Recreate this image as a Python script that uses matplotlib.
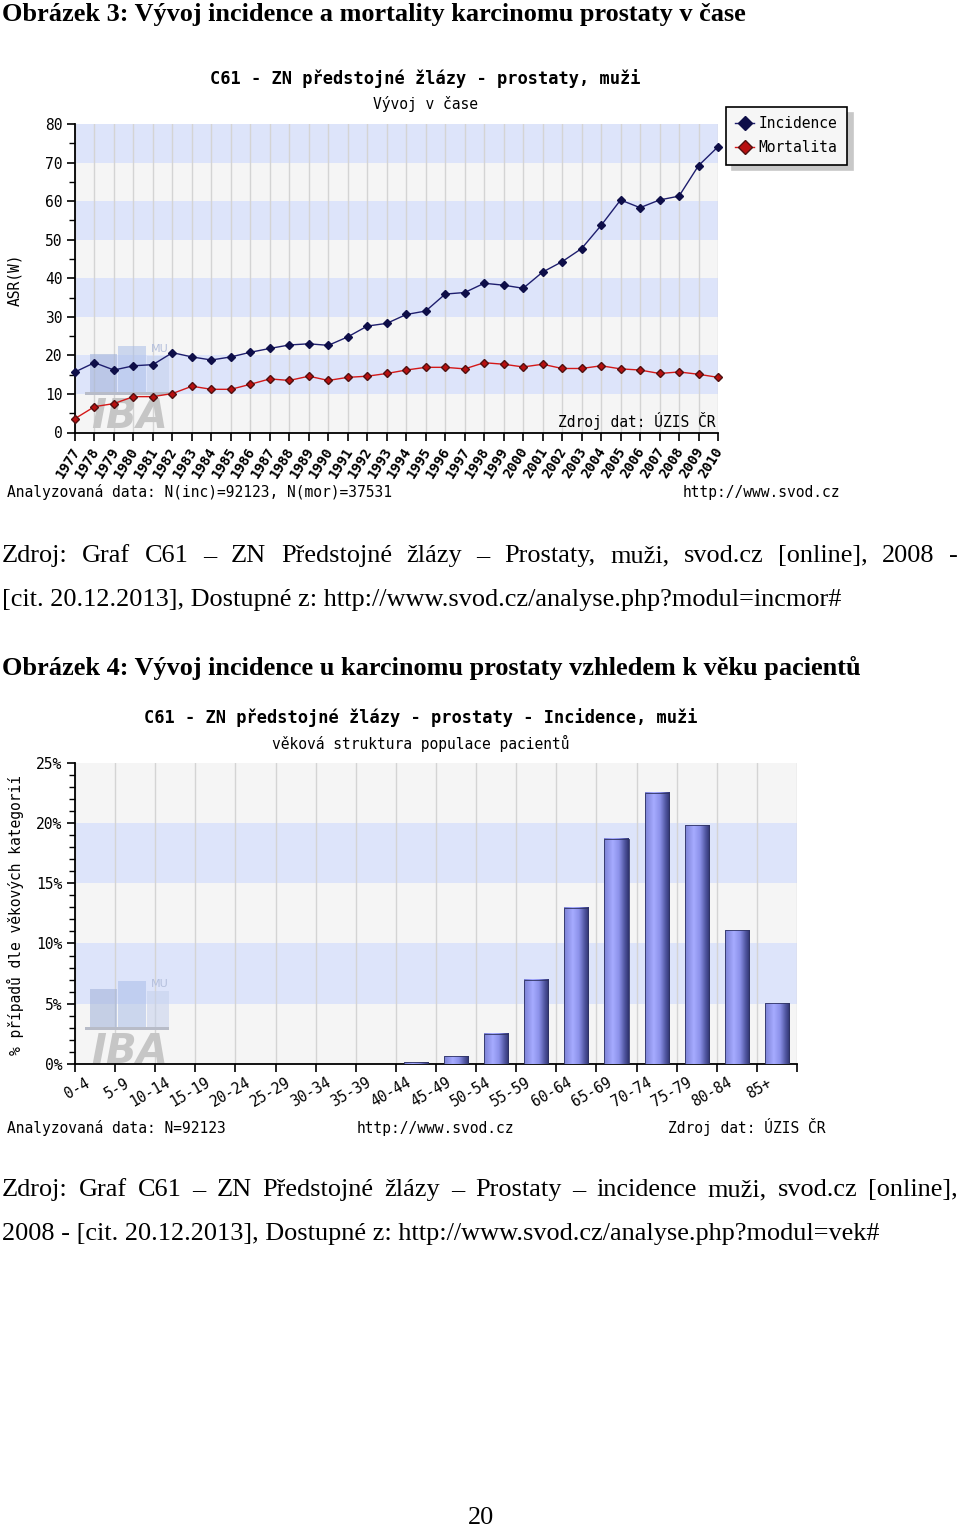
import numpy as np
import matplotlib
matplotlib.use('Agg')
import matplotlib.pyplot as plt
from matplotlib.colors import LinearSegmentedColormap
from matplotlib.transforms import ScaledTranslation
from matplotlib.patches import Rectangle

# data
years = list(range(1977, 2011))
incidence = [15.7, 18.1, 16.2, 17.3, 17.6, 20.7, 19.6, 18.8, 19.6, 20.8,
             21.8, 22.7, 23.0, 22.6, 24.8, 27.6, 28.3, 30.6, 31.5, 35.9,
             36.3, 38.7, 38.2, 37.4, 41.6, 44.3, 47.7, 53.7, 60.3, 58.3,
             60.3, 61.3, 69.2, 74.1]
mortality = [3.6, 6.7, 7.5, 9.3, 9.3, 10.1, 12.0, 11.2, 11.2, 12.5,
             13.9, 13.5, 14.6, 13.5, 14.3, 14.6, 15.3, 16.2, 16.9, 16.9,
             16.5, 18.1, 17.7, 17.0, 17.7, 16.6, 16.6, 17.3, 16.5, 16.2,
             15.3, 15.7, 15.1, 14.3]

age_groups = ['0-4', '5-9', '10-14', '15-19', '20-24', '25-29', '30-34', '35-39',
              '40-44', '45-49', '50-54', '55-59', '60-64', '65-69', '70-74',
              '75-79', '80-84', '85+']
age_share = [0, 0, 0, 0, 0, 0, 0, 0, 0.14, 0.64, 2.5, 6.97, 12.97, 18.7,
             22.5, 19.8, 11.1, 5.06]

W, H = 960, 1526
SERIF = 'Liberation Serif'
PT = 18.9
BLUE_BAND = '#dde4fa'
GRAY_BAND = '#f5f5f5'
GRID = '#d4d4d4'

plt.rcParams['font.family'] = ['DejaVu Sans Mono']
fig = plt.figure(figsize=(W / 100, H / 100), dpi=100)
fig.patch.set_facecolor('white')
renderer = fig.canvas.get_renderer()


def fx(x):
    return x / W


def fy(y):
    return 1 - y / H


def txt(x, y, s, **kw):
    kw.setdefault('va', 'baseline')
    return fig.text(fx(x), fy(y), s, **kw)


def justify(line, x0, x1, y, **kw):
    words = line.split()
    arts = [txt(0, y, w, **kw) for w in words]
    widths = [a.get_window_extent(renderer).width for a in arts]
    gap = (x1 - x0 - sum(widths)) / (len(words) - 1)
    x = x0
    for a, w in zip(arts, widths):
        a.set_x(fx(x))
        x += w + gap


def logo(ax, x, y):
    for dx, dy, w, h, c in [(5, 14, 27, 38, '#9fb0d8'), (33, 6, 28, 46, '#a9bde8'),
                            (62, 16, 22, 36, '#c4d0ec')]:
        ax.add_patch(Rectangle((fx(x + dx), fy(y + 52)), w / W, (52 - dy) / H,
                               transform=fig.transFigure, color=c, alpha=0.55,
                               lw=0, zorder=1.5))
    ax.add_patch(Rectangle((fx(x), fy(y + 55)), 84 / W, 3 / H, transform=fig.transFigure,
                           color='#b8bcc8', lw=0, zorder=1.5))
    ax.text(fx(x + 66), fy(y + 12), 'MU', transform=fig.transFigure, fontsize=8,
            color='#b4bfdc', family='DejaVu Sans', zorder=1.5)
    ax.text(fx(x + 6), fy(y + 88), 'IBA', transform=fig.transFigure, fontsize=29,
            color='#c6c6c6', family='DejaVu Sans', weight='bold', style='italic',
            zorder=1.5)


def style_axes(ax):
    for s in ['top', 'right']:
        ax.spines[s].set_visible(False)
    for s in ['left', 'bottom']:
        ax.spines[s].set_linewidth(1.3)
    ax.tick_params(axis='y', which='major', direction='out', length=6, width=1.2,
                   labelsize=10.5, pad=3)
    ax.tick_params(axis='y', which='minor', direction='out', length=4, width=1)


# ---------- text of the page ----------
txt(2, 21.5, 'Obrázek 3: Vývoj incidence a mortality karcinomu prostaty v čase',
    family=SERIF, weight='bold', size=PT)
justify('Zdroj: Graf C61 – ZN Předstojné žlázy – Prostaty, muži, svod.cz [online], 2008 -',
        2, 958, 562, family=SERIF, size=PT)
txt(2, 606, '[cit. 20.12.2013], Dostupné z: http://www.svod.cz/analyse.php?modul=incmor#',
    family=SERIF, size=PT)
txt(2, 675, 'Obrázek 4: Vývoj incidence u karcinomu prostaty vzhledem k věku pacientů',
    family=SERIF, weight='bold', size=PT)
justify('Zdroj: Graf C61 – ZN Předstojné žlázy – Prostaty – incidence muži, svod.cz [online],',
        2, 958, 1196, family=SERIF, size=PT)
txt(2, 1240, '2008 - [cit. 20.12.2013], Dostupné z: http://www.svod.cz/analyse.php?modul=vek#',
    family=SERIF, size=PT)
txt(481, 1524, '20', family=SERIF, size=PT, ha='center')

# ---------- chart 1: time trend ----------
ax1 = fig.add_axes([fx(75), fy(432.5), (718 - 75) / W, (432.5 - 124) / H])
for k in range(0, 80, 10):
    ax1.axhspan(k, k + 10, color=BLUE_BAND if (k // 10) % 2 else GRAY_BAND, lw=0, zorder=0)
ax1.set_axisbelow(True)
ax1.grid(axis='x', color=GRID, lw=1)
ax1.plot(years, incidence, color='#1e1e6e', lw=1, marker='D', ms=4,
         mfc='#0e0e48', mec='#0e0e48', zorder=3, label='Incidence', clip_on=False)
ax1.plot(years, mortality, color='#d41818', lw=1, marker='D', ms=4,
         mfc='#b81010', mec='#501010', zorder=3, label='Mortalita', clip_on=False)
ax1.set_xlim(1977, 2010)
ax1.set_ylim(0, 80)
ax1.set_yticks(range(0, 81, 10))
ax1.set_yticks(range(0, 81, 5), minor=True)
style_axes(ax1)
ax1.set_xticks(years)
ax1.set_xticklabels([str(y) for y in years], rotation=58, ha='right',
                    rotation_mode='anchor', fontsize=10, weight='bold')
ax1.tick_params(axis='x', direction='out', length=6, width=1.2, pad=3)
for lbl in ax1.get_xticklabels():
    lbl.set_transform(lbl.get_transform() + ScaledTranslation(-0.04, 0, fig.dpi_scale_trans))
logo(ax1, 85, 340)
leg = ax1.legend(loc='upper left', bbox_to_anchor=(fx(726), fy(107)),
                 bbox_transform=fig.transFigure, fancybox=False,
                 shadow={'color': '#c8c8c8', 'alpha': 1, 'ox': 4, 'oy': -4},
                 edgecolor='black', facecolor='#f6f6f6', framealpha=1, fontsize=10.5,
                 borderaxespad=0, borderpad=0.65, handlelength=1.3, handletextpad=0.3,
                 labelspacing=0.6, markerscale=1.7)
leg.get_frame().set_linewidth(1.2)

txt(425.5, 84, 'C61 - ZN předstojné žlázy - prostaty, muži', ha='center',
    size=12.25, weight='bold')
txt(425.5, 109, 'Vývoj v čase', ha='center', size=10.5)
txt(15, 280, 'ASR(W)', rotation=90, ha='center', va='center', size=10.5)
txt(716, 427, 'Zdroj dat: ÚZIS ČR', ha='right', size=10.5)
txt(7, 497, 'Analyzovaná data: N(inc)=92123, N(mor)=37531', size=10.5)
txt(840, 497, 'http://www.svod.cz', ha='right', size=10.5)

# ---------- chart 2: age structure ----------
ax2 = fig.add_axes([fx(75), fy(1064), (797 - 75) / W, (1064 - 762.7) / H])
for k in range(0, 25, 5):
    ax2.axhspan(k, k + 5, color=BLUE_BAND if (k // 5) % 2 else GRAY_BAND, lw=0, zorder=0)
ax2.set_axisbelow(True)
ax2.grid(axis='x', which='major', color=GRID, lw=1)

bar_cmap = LinearSegmentedColormap.from_list(
    'cyl', [(0, '#7b81d4'), (0.35, '#a6abff'), (0.6, '#8c92ea'),
            (0.85, '#4d529c'), (1, '#2f336e')])
grad = np.linspace(0, 1, 64).reshape(1, -1)
centers = np.arange(len(age_groups)) + 0.5
bw = 0.6
for c, v in zip(centers, age_share):
    if v > 0:
        ax2.imshow(grad, extent=(c - bw / 2, c + bw / 2, 0, v), aspect='auto',
                   cmap=bar_cmap, zorder=3, interpolation='bilinear')
ax2.bar(centers, age_share, width=bw, facecolor='none', edgecolor='#2e3262',
        lw=0.6, zorder=4)
ax2.set_xlim(0, len(age_groups))
ax2.set_ylim(0, 25)
ax2.set_yticks(range(0, 26, 5))
ax2.set_yticklabels([f'{v}%' for v in range(0, 26, 5)])
ax2.set_yticks(range(0, 26), minor=True)
style_axes(ax2)
ax2.set_xticks(range(len(age_groups) + 1))
ax2.set_xticklabels([])
ax2.set_xticks(centers, minor=True)
ax2.set_xticklabels(age_groups, minor=True, rotation=30, ha='right',
                    rotation_mode='anchor', fontsize=10.5)
ax2.tick_params(axis='x', which='major', direction='out', length=6, width=1.2)
ax2.tick_params(axis='x', which='minor', length=0, pad=8)
for lbl in ax2.get_xticklabels(minor=True):
    lbl.set_transform(lbl.get_transform() + ScaledTranslation(-0.1, 0, fig.dpi_scale_trans))
logo(ax2, 85, 975)

txt(420.5, 723, 'C61 - ZN předstojné žlázy - prostaty - Incidence, muži', ha='center',
    size=12.25, weight='bold')
txt(421, 749, 'věková struktura populace pacientů', ha='center', size=10.5)
txt(15, 915, '% případů dle věkových kategorií', rotation=90, ha='center',
    va='center', size=10.5)
txt(7, 1133, 'Analyzovaná data: N=92123', size=10.5)
txt(357, 1133, 'http://www.svod.cz', size=10.5)
txt(668, 1133, 'Zdroj dat: ÚZIS ČR', size=10.5)

fig.savefig('out.png', dpi=100)
